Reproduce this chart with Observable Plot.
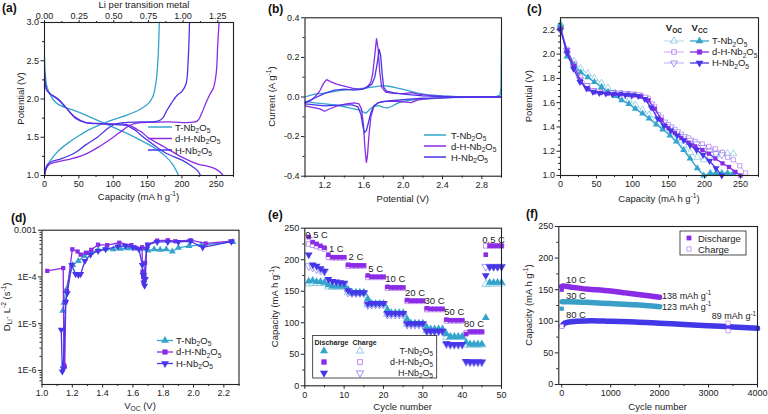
<!DOCTYPE html>
<html><head><meta charset="utf-8">
<script src="https://cdn.jsdelivr.net/npm/d3@7"></script>
<script src="https://cdn.jsdelivr.net/npm/@observablehq/plot@0.6"></script>
<style>
html,body{margin:0;padding:0;background:#fff}
#fig{position:relative;width:768px;height:414px;background:#fff;overflow:hidden;font-family:"Liberation Sans",Arial,sans-serif;color:#222}
#fig svg{position:absolute;overflow:visible}
.plab{position:absolute;font-weight:bold;font-size:12px;color:#111;line-height:1}
</style></head><body>
<div id="fig"></div>
<script>
// ================= DATA =================
const seriesNames = ["T-Nb_{2}O_{5}", "d-H-Nb_{2}O_{5}", "H-Nb_{2}O_{5}"];
const LI_PER_CAP = 201.7; // mAh/g per Li per Nb
const liTicks = [0, 0.25, 0.5, 0.75, 1.0, 1.25];

// (a) galvanostatic curves
const aT_disCap = [0,1,3,6,12,20,40,60,80,100,120,140,160,175,187,195];
const aT_disV   = [2.55,2.35,2.18,2.1,2.0,1.93,1.86,1.79,1.71,1.63,1.55,1.46,1.36,1.26,1.14,1.0];
const aT_chgCap = [0,2,5,9,20,35,50,65,80,100,120,140,152,158,162,165,167];
const aT_chgV   = [1.0,1.08,1.14,1.2,1.32,1.43,1.52,1.6,1.66,1.73,1.79,1.87,1.95,2.04,2.2,2.5,3.0];
const aDH_disCap = [0,1,3,8,20,30,45,60,80,100,120,128,135,141,150,175,200,223,238,248,255,260];
const aDH_disV   = [2.35,2.22,2.12,2.07,2.0,1.9,1.76,1.69,1.68,1.675,1.665,1.64,1.6,1.57,1.5,1.37,1.24,1.15,1.12,1.09,1.05,1.0];
const aDH_chgCap = [0,3,8,15,40,60,80,100,115,125,140,180,222,228,235,240,246,250,252,254];
const aDH_chgV   = [1.0,1.1,1.15,1.17,1.22,1.28,1.38,1.5,1.6,1.66,1.69,1.7,1.71,1.8,1.95,2.05,2.15,2.35,2.7,3.0];
const aH_disCap = [0,1,3,8,20,30,45,60,80,100,118,125,131,140,150,175,200,213,222,227];
const aH_disV   = [2.35,2.22,2.12,2.07,1.99,1.9,1.75,1.69,1.675,1.668,1.655,1.63,1.6,1.53,1.46,1.3,1.2,1.13,1.07,1.0];
const aH_chgCap = [0,2,5,10,25,45,60,77,90,100,115,140,165,172,178,185,192,200,206,209,211];
const aH_chgV   = [1.0,1.1,1.15,1.18,1.22,1.3,1.4,1.5,1.6,1.66,1.69,1.7,1.71,1.75,1.85,1.95,2.04,2.1,2.2,2.5,3.0];

// (b) cyclic voltammetry (loop: anodic 1->3 V then cathodic 3->1 V)
const bT_V = [1.0,1.05,1.1,1.2,1.35,1.5,1.63,1.72,1.8,1.87,1.93,2.0,2.07,2.15,2.27,2.4,2.55,2.8,2.95,2.985,2.995,3.0,3.0,2.8,2.5,2.3,2.15,2.05,1.97,1.93,1.88,1.84,1.8,1.75,1.7,1.66,1.62,1.59,1.56,1.52,1.45,1.39,1.3,1.18,1.1,1.0];
const bT_I = [0.0,0.008,0.014,0.02,0.032,0.04,0.046,0.052,0.057,0.053,0.046,0.038,0.03,0.02,0.01,0.005,0.002,0.001,0.003,0.01,0.05,0.31,0.0,-0.001,-0.003,-0.008,-0.012,-0.018,-0.026,-0.035,-0.048,-0.055,-0.052,-0.044,-0.047,-0.062,-0.082,-0.075,-0.066,-0.062,-0.055,-0.048,-0.04,-0.033,-0.03,-0.022];
const bDH_V = [1.0,1.05,1.1,1.15,1.19,1.22,1.26,1.32,1.4,1.48,1.55,1.6,1.64,1.67,1.69,1.71,1.728,1.745,1.76,1.78,1.82,1.9,2.0,2.08,2.15,2.3,2.5,3.0,3.0,2.5,2.3,2.15,2.08,2.0,1.9,1.8,1.74,1.7,1.67,1.65,1.635,1.625,1.61,1.595,1.575,1.55,1.5,1.42,1.33,1.26,1.2,1.15,1.1,1.05,1.0];
const bDH_I = [-0.03,-0.02,0.0,0.03,0.07,0.088,0.078,0.065,0.055,0.045,0.038,0.042,0.055,0.075,0.12,0.21,0.295,0.24,0.13,0.05,0.025,0.018,0.017,0.022,0.015,0.006,0.002,0.0,0.0,-0.002,-0.006,-0.015,-0.028,-0.025,-0.022,-0.022,-0.03,-0.05,-0.1,-0.2,-0.3,-0.33,-0.26,-0.14,-0.06,-0.035,-0.03,-0.035,-0.045,-0.058,-0.072,-0.06,-0.055,-0.05,-0.045];
const bH_V = [1.0,1.1,1.2,1.3,1.4,1.5,1.58,1.64,1.68,1.71,1.735,1.755,1.77,1.785,1.8,1.83,1.9,2.0,2.2,2.5,3.0,3.0,2.5,2.2,2.0,1.85,1.75,1.7,1.67,1.645,1.625,1.605,1.59,1.57,1.54,1.48,1.4,1.3,1.2,1.1,1.0];
const bH_I = [-0.028,-0.005,0.018,0.035,0.04,0.035,0.038,0.05,0.065,0.1,0.17,0.24,0.21,0.12,0.05,0.03,0.022,0.015,0.006,0.001,0.0,0.0,-0.002,-0.006,-0.014,-0.02,-0.028,-0.045,-0.08,-0.13,-0.17,-0.18,-0.15,-0.09,-0.05,-0.04,-0.04,-0.042,-0.045,-0.04,-0.035];

// (c) GITT: closed-circuit (Vcc) and open-circuit (Voc) potentials
const cT_cap  = [0,9,19,28,38,47,57,66,76,85,95,104,114,123,133,142,152,161,171,180,190,199,208,216,224,232,240];
const cT_vcc  = [2.24,1.98,1.91,1.85,1.81,1.77,1.73,1.69,1.655,1.62,1.59,1.55,1.51,1.47,1.42,1.38,1.33,1.28,1.21,1.14,1.06,1.0,1.02,1.02,1.02,1.02,1.02];
const cT_voc  = [2.25,2.02,1.94,1.88,1.84,1.8,1.76,1.72,1.68,1.65,1.62,1.58,1.54,1.5,1.46,1.42,1.37,1.31,1.25,1.19,1.15,1.13,1.16,1.17,1.18,1.18,1.18];
const cDH_cap = [0,9,19,28,38,47,56,66,75,84,94,103,112,122,131,140,150,159,168,178,187,197,206,215,225,234,243,250];
const cDH_vcc = [2.21,2.03,1.9,1.78,1.71,1.685,1.68,1.675,1.672,1.67,1.665,1.66,1.65,1.62,1.55,1.46,1.39,1.35,1.31,1.27,1.24,1.21,1.18,1.14,1.1,1.07,1.03,1.0];
const cDH_vocCap = [0,9,19,28,38,47,56,66,75,84,94,103,112,122,131,140,150,159,168,178,187,197,206,215,225,232,240,249,257];
const cDH_voc = [2.2,2.04,1.92,1.81,1.74,1.7,1.69,1.685,1.683,1.68,1.675,1.67,1.66,1.635,1.57,1.48,1.42,1.38,1.34,1.31,1.28,1.26,1.24,1.22,1.19,1.15,1.13,1.08,1.02];
const cH_cap  = [0,9,18,27,36,45,54,63,72,81,90,99,108,117,126,135,144,153,162,171,180,189,198,207,216,224];
const cH_vcc  = [2.2,2.01,1.88,1.77,1.72,1.69,1.68,1.675,1.67,1.668,1.665,1.66,1.655,1.63,1.56,1.47,1.41,1.37,1.33,1.29,1.25,1.21,1.17,1.12,1.06,1.0];
const cH_voc  = [2.2,2.03,1.9,1.79,1.74,1.7,1.69,1.685,1.68,1.678,1.675,1.67,1.665,1.645,1.59,1.5,1.44,1.4,1.36,1.32,1.29,1.26,1.23,1.2,1.18,1.17];

// (d) chemical diffusion coefficient vs Voc
const dT_V  = [1.137,1.145,1.155,1.203,1.24,1.28,1.32,1.37,1.42,1.47,1.52,1.57,1.62,1.66,1.7,1.74,1.78,1.82,1.86,1.9,1.97,2.05,2.26];
const dT_D  = [1.9e-5,2.8e-5,5e-5,1.8e-4,2.2e-4,2.8e-4,3.3e-4,3.8e-4,4.0e-4,3.9e-4,4.0e-4,4.1e-4,4.1e-4,4.0e-4,3.7e-4,3.9e-4,3.8e-4,3.9e-4,3.5e-4,4.2e-4,4.6e-4,4.8e-4,5.6e-4];
const dDH_V = [1.035,1.14,1.145,1.15,1.157,1.165,1.2,1.235,1.255,1.29,1.325,1.37,1.43,1.51,1.59,1.625,1.66,1.663,1.667,1.672,1.676,1.68,1.695,1.76,1.83,1.88,1.98,2.08,2.25];
const dDH_D = [1.35e-4,1.55e-4,1.3e-6,1.2e-6,3e-5,5e-5,3.9e-4,3.5e-4,3.0e-4,3.3e-4,3.8e-4,4.9e-4,4.8e-4,5.4e-4,4.8e-4,4.1e-4,4.3e-4,1.3e-4,1.0e-4,8e-5,1.1e-4,2e-4,4.9e-4,6.0e-4,6.1e-4,5.8e-4,6.1e-4,5.2e-4,5.8e-4];
const dH_V  = [1.127,1.134,1.14,1.156,1.167,1.196,1.222,1.24,1.255,1.283,1.32,1.37,1.42,1.5,1.55,1.6,1.64,1.662,1.667,1.672,1.677,1.682,1.69,1.7,1.76,1.83,1.9,1.98,2.06,2.25];
const dH_D  = [7.4e-6,9.5e-7,1.1e-6,2.9e-5,4.5e-5,1.8e-4,1.15e-4,1.1e-4,1.15e-4,2.2e-4,3.0e-4,3.6e-4,3.9e-4,4.5e-4,4.6e-4,4.3e-4,3.9e-4,1.8e-4,1.1e-4,7.5e-5,6.5e-5,9e-5,4.0e-4,4.9e-4,5.6e-4,5.6e-4,5.6e-4,5.8e-4,4.3e-4,5.7e-4];
const dYTickLabels = ["0.001","1E-4","1E-5","1E-6"];

// (e) rate capability, cycles 1..50
const eCycles = d3.range(1, 51);
const rateLabels = ["0.5 C","1 C","2 C","5 C","10 C","20 C","30 C","50 C","80 C","0.5 C"];
const eT_dis  = [166,167,165,165,164, 160,158,158,158,158, 153,148,148,148,148, 138,130,130,130,130, 121,116,116,116,116, 106,99,99,99,99, 93,90,90,90,90, 82,78,78,78,78, 69,66,66,66,66, 108,164,164,164,164];
const eT_chg  = [162,163,163,163,163, 157,157,157,157,157, 148,147,147,147,147, 129,129,129,129,129, 114,114,114,114,114, 98,98,98,98,98, 88,88,88,88,88, 77,77,77,77,77, 65,65,65,65,65, 161,162,162,162,162];
const eDH_dis = [236,228,225,222,219, 208,204,204,204,204, 192,191,191,191,191, 175,173,173,173,173, 157,156,156,156,156, 136,135,135,135,135, 123,122,122,122,122, 105,104,104,104,104, 82,86,86,86,86, 208,222,222,222,222];
const eDH_chg = [225,223,221,219,217, 204,203,203,203,203, 190,190,190,190,190, 172,172,172,172,172, 155,155,155,155,155, 134,134,134,134,134, 121,121,121,121,121, 103,103,103,103,103, 84,85,85,85,85, 222,222,222,222,222];
const eH_dis  = [208,192,190,186,182, 169,166,165,164,163, 151,148,148,148,148, 130,131,131,131,131, 115,115,115,115,115, 99,99,99,99,99, 87,87,87,87,87, 67,66,66,66,66, 39,38,38,38,38, 175,189,189,189,189];
const eH_chg  = [190,188,185,183,181, 165,163,162,161,161, 148,147,147,147,147, 128,129,129,129,129, 113,113,113,113,113, 97,97,97,97,97, 86,86,86,86,86, 66,65,65,65,65, 38,37,37,37,37, 189,189,189,189,189];

// (f) long-term cycling
const fRates = ["10 C","30 C","80 C"];
const f10_cyc = [0,30,200,500,700,1000,1300,1600,2000];
const f10_cap = [155,156,154,151,150,148,145,142,138];
const f30_cyc = [10,200,500,1000,1500,2000];
const f30_cap = [131,131,130,128,126,123];
const f80_cyc = [10,60,150,300,600,1000,1500,2000,2500,3000,3500,4000];
const f80_cap = [93,97,99,100,101,100,99,97,95,93,91,89];
const fChgOut_cyc = [3400,3400,0];
const fChgOut_cap = [97,85,92];
const fDisOut_cyc = [0,0];
const fDisOut_cap = [120,150];

// ================= HELPERS =================
const FONT = '"Liberation Sans", Arial, sans-serif';
const INK = "#222";
const cT = "#35a4cc", cDH = "#8a2be6", cH = "#4636e8";
const colors = [cT, cDH, cH];
const fig = document.getElementById("fig");
const pts = (xs, ys) => xs.map((x, i) => ({x, y: ys[i]}));

function rich(sel, str, fs) {
  const re = /([_^])\{([^}]*)\}/g; let last = 0, m, cur = 0;
  while ((m = re.exec(str))) {
    if (m.index > last) { sel.append("tspan").attr("dy", -cur).text(str.slice(last, m.index)); cur = 0; }
    const sh = m[1] === "_" ? fs * 0.25 : -fs * 0.4;
    sel.append("tspan").attr("dy", sh - cur).attr("font-size", fs * 0.7).text(m[2]);
    cur = sh; last = re.lastIndex;
  }
  if (last < str.length) sel.append("tspan").attr("dy", -cur).text(str.slice(last));
}
function symPath(type, r) {
  const map = {triangle: d3.symbolTriangle, square: d3.symbolSquare, circle: d3.symbolCircle};
  return d3.symbol(map[type], r * r * Math.PI)();
}
function sym(g, type, x, y, r, color, filled, rot, op) {
  g.append("path").attr("d", symPath(type, r))
    .attr("transform", `translate(${x},${y}) rotate(${rot || 0})`)
    .attr("fill", filled ? color : "white").attr("stroke", color)
    .attr("stroke-width", filled ? 0.5 : 0.9).attr("opacity", op == null ? 1 : op);
}
function label(g, x, y, str, fs, anchor, weight) {
  const t = g.append("text").attr("x", x).attr("y", y).attr("font-size", fs)
    .attr("text-anchor", anchor || "start").attr("font-weight", weight || "normal").attr("fill", INK);
  rich(t, str, fs);
  return t;
}

function makePanel(o) {
  const w = 256, h = 207;
  const marks = [...o.marks,
    Plot.axisX({ticks: o.xMinor, tickSize: 2, tickFormat: () => "", label: null}),
    Plot.axisX({ticks: o.xTicks, tickSize: 3.5, tickPadding: 2, tickFormat: o.xFmt, label: null}),
    Plot.axisY({ticks: o.yMinor, tickSize: 2, tickFormat: () => "", label: null}),
    Plot.axisY({ticks: o.yTicks, tickSize: 3.5, tickPadding: 2, tickFormat: o.yFmt, label: null}),
    ...(o.extra || []),
    Plot.frame({stroke: INK, strokeWidth: 1.1})
  ];
  const svg = Plot.plot({
    width: w, height: h, marginLeft: o.ml, marginRight: o.mr, marginTop: o.mt, marginBottom: o.mb,
    x: {...o.x, label: null}, y: {...o.y, label: null},
    style: {fontFamily: FONT, fontSize: "9px", color: INK, background: "none", overflow: "visible"},
    marks
  });
  svg.style.left = o.left + "px"; svg.style.top = o.top + "px";
  fig.appendChild(svg);
  const g = d3.select(svg).append("g").attr("font-family", FONT);
  const fr = {l: o.ml, r: w - o.mr, t: o.mt, b: h - o.mb};
  if (o.xLabel) label(g, (fr.l + fr.r) / 2, o.xLabelY, o.xLabel, 9.5, "middle");
  if (o.yLabel) {
    const t = g.append("text").attr("transform", `translate(${o.yLabelX},${(fr.t + fr.b) / 2}) rotate(-90)`)
      .attr("text-anchor", "middle").attr("font-size", 9.5).attr("fill", INK);
    rich(t, o.yLabel, 9.5);
  }
  return {svg, g, fr, sx: svg.scale("x"), sy: svg.scale("y")};
}
const rng = (a, b, s) => d3.range(a, b + s / 2, s);
const line = (xs, ys, color, extra) => Plot.line(pts(xs, ys), {x: "x", y: "y", stroke: color, strokeWidth: 1.3, curve: "catmull-rom", clip: true, ...(extra || {})});
const plain = d => String(d);

// ================= (a) =================
{
  const P = makePanel({
    left: 0, top: 0, ml: 44, mr: 23, mt: 22, mb: 32,
    x: {domain: [0, 275]}, y: {domain: [1, 3]},
    xTicks: rng(0, 250, 50), xMinor: rng(25, 275, 50), xFmt: plain,
    yTicks: rng(1, 3, 0.5), yMinor: rng(1.25, 2.75, 0.5), yFmt: d => d.toFixed(1),
    extra: [
      Plot.axisX({anchor: "top", ticks: liTicks.map(l => l * LI_PER_CAP), tickSize: 3, tickPadding: 1, tickFormat: d => (d / LI_PER_CAP).toFixed(2), label: null}),
      Plot.axisX({anchor: "top", ticks: liTicks.slice(0, -1).map(l => (l + 0.125) * LI_PER_CAP), tickSize: 2, tickFormat: () => "", label: null})
    ],
    marks: [
      line(aT_disCap, aT_disV, cT), line(aT_chgCap, aT_chgV, cT),
      line(aDH_disCap, aDH_disV, cDH), line(aDH_chgCap, aDH_chgV, cDH),
      line(aH_disCap, aH_disV, cH), line(aH_chgCap, aH_chgV, cH)
    ],
    xLabel: "Capacity (mA h g^{-1})", xLabelY: 200, yLabel: "Potential (V)", yLabelX: 24
  });
  label(P.g, 144, 8, "Li per transition metal", 9.5, "middle");
  seriesNames.forEach((s, i) => {
    const y = 127 + i * 11.5;
    P.g.append("line").attr("x1", 148).attr("x2", 172).attr("y1", y).attr("y2", y).attr("stroke", colors[i]).attr("stroke-width", 1.5);
    label(P.g, 175, y + 3.5, s, 9.5);
  });
}

// ================= (b) =================
{
  const P = makePanel({
    left: 256, top: 0, ml: 48.5, mr: 11, mt: 17.3, mb: 31.3,
    x: {domain: [1, 3]}, y: {domain: [-0.4, 0.4]},
    xTicks: rng(1.2, 2.8, 0.4), xMinor: rng(1.0, 3.0, 0.4), xFmt: d => d.toFixed(1),
    yTicks: rng(-0.4, 0.4, 0.2), yMinor: rng(-0.3, 0.3, 0.2), yFmt: d => d.toFixed(1),
    marks: [
      line(bT_V, bT_I, cT, {curve: "linear"}),
      line(bDH_V, bDH_I, cDH, {curve: "linear"}),
      line(bH_V, bH_I, cH, {curve: "linear"})
    ],
    xLabel: "Potential (V)", xLabelY: 202, yLabel: "Current (A g^{-1})", yLabelX: 19
  });
  seriesNames.forEach((s, i) => {
    const y = 135 + i * 11;
    P.g.append("line").attr("x1", 168).attr("x2", 190).attr("y1", y).attr("y2", y).attr("stroke", colors[i]).attr("stroke-width", 1.5);
    label(P.g, 195, y + 3.5, s, 9.5);
  });
}

// ================= (c) =================
{
  const vocOp = 0.4;
  const P = makePanel({
    left: 512, top: 0, ml: 48, mr: 10, mt: 17.2, mb: 32,
    x: {domain: [0, 275]}, y: {domain: [1, 2.3]},
    xTicks: rng(0, 250, 50), xMinor: rng(25, 275, 50), xFmt: plain,
    yTicks: rng(1, 2.2, 0.2), yMinor: rng(1.05, 2.25, 0.05).filter(v => Math.abs(v * 5 - Math.round(v * 5)) > 1e-6), yFmt: d => d.toFixed(1),
    marks: [
      line(cT_cap, cT_voc, cT, {curve: "linear", strokeOpacity: vocOp, strokeWidth: 1}),
      Plot.dot(pts(cT_cap, cT_voc), {x: "x", y: "y", symbol: "triangle", r: 2.6, stroke: cT, strokeOpacity: 0.55, fill: "white", strokeWidth: 0.8}),
      line(cDH_vocCap, cDH_voc, cDH, {curve: "linear", strokeOpacity: vocOp, strokeWidth: 1}),
      Plot.dot(pts(cDH_vocCap, cDH_voc), {x: "x", y: "y", symbol: "square", r: 2.4, stroke: cDH, strokeOpacity: 0.55, fill: "white", strokeWidth: 0.8}),
      line(cH_cap, cH_voc, cH, {curve: "linear", strokeOpacity: vocOp, strokeWidth: 1}),
      Plot.dot(pts(cH_cap, cH_voc), {x: "x", y: "y", symbol: "triangle", rotate: 180, r: 2.6, stroke: cH, strokeOpacity: 0.55, fill: "white", strokeWidth: 0.8}),
      line(cT_cap, cT_vcc, cT, {curve: "linear"}),
      Plot.dot(pts(cT_cap, cT_vcc), {x: "x", y: "y", symbol: "triangle", r: 2.6, fill: cT}),
      line(cDH_cap, cDH_vcc, cDH, {curve: "linear"}),
      Plot.dot(pts(cDH_cap, cDH_vcc), {x: "x", y: "y", symbol: "square", r: 2.4, fill: cDH}),
      line(cH_cap, cH_vcc, cH, {curve: "linear"}),
      Plot.dot(pts(cH_cap, cH_vcc), {x: "x", y: "y", symbol: "triangle", rotate: 180, r: 2.6, fill: cH})
    ],
    xLabel: "Capacity (mA h g^{-1})", xLabelY: 202, yLabel: "Potential (V)", yLabelX: 20
  });
  label(P.g, 162, 31, "V_{OC}", 9.5, "middle", "bold");
  label(P.g, 187.5, 31, "V_{CC}", 9.5, "middle", "bold");
  const types = ["triangle", "square", "triangle"], rots = [0, 0, 180];
  seriesNames.forEach((s, i) => {
    const y = 41 + i * 11;
    P.g.append("line").attr("x1", 152).attr("x2", 172).attr("y1", y).attr("y2", y).attr("stroke", colors[i]).attr("stroke-opacity", vocOp).attr("stroke-width", 1);
    sym(P.g, types[i], 162, y, 2.6, colors[i], false, rots[i], 0.55);
    P.g.append("line").attr("x1", 178).attr("x2", 197).attr("y1", y).attr("y2", y).attr("stroke", colors[i]).attr("stroke-width", 1.3);
    sym(P.g, types[i], 187.5, y, 2.6, colors[i], true, rots[i]);
    label(P.g, 200, y + 3.3, s, 9.5);
  });
}

// ================= (d) =================
{
  const minor = [];
  for (let k = -7; k <= -4; k++) for (let m = 2; m <= 9; m++) { const v = m * Math.pow(10, k); if (v > 5e-7 && v < 1e-3) minor.push(v); }
  const major = [1e-3, 1e-4, 1e-5, 1e-6];
  const P = makePanel({
    left: 0, top: 207, ml: 41.5, mr: 17.5, mt: 22.7, mb: 30,
    x: {domain: [1.0, 2.3]}, y: {type: "log", domain: [5e-7, 1e-3]},
    xTicks: rng(1.0, 2.2, 0.2), xMinor: rng(1.1, 2.3, 0.2), xFmt: d => d.toFixed(1),
    yTicks: major, yMinor: minor, yFmt: d => dYTickLabels[major.findIndex(v => Math.abs(v - d) / v < 1e-6)],
    marks: [
      line(dT_V, dT_D, cT, {curve: "linear"}),
      Plot.dot(pts(dT_V, dT_D), {x: "x", y: "y", symbol: "triangle", r: 2.6, fill: cT}),
      line(dDH_V, dDH_D, cDH, {curve: "linear"}),
      Plot.dot(pts(dDH_V, dDH_D), {x: "x", y: "y", symbol: "square", r: 2.4, fill: cDH}),
      line(dH_V, dH_D, cH, {curve: "linear"}),
      Plot.dot(pts(dH_V, dH_D), {x: "x", y: "y", symbol: "triangle", rotate: 180, r: 2.6, fill: cH})
    ],
    xLabel: "V_{OC} (V)", xLabelY: 202, yLabel: "D_{Li}· L^{-2} (s^{-1})", yLabelX: 10
  });
  const types = ["triangle", "square", "triangle"], rots = [0, 0, 180];
  seriesNames.forEach((s, i) => {
    const y = 133.5 + i * 11.5;
    P.g.append("line").attr("x1", 157).attr("x2", 173).attr("y1", y).attr("y2", y).attr("stroke", colors[i]).attr("stroke-width", 1.3);
    sym(P.g, types[i], 165, y, 2.6, colors[i], true, rots[i]);
    label(P.g, 176, y + 3.3, s, 9.5);
  });
}

// ================= (e) =================
{
  const groupLab = rateLabels.map((t, gi) => ({t, x: gi * 5 + 3, y: d3.mean(eDH_dis.slice(gi * 5, gi * 5 + 5)) + 12.5}));
  const open = (ys, c, symb, rot) => Plot.dot(pts(eCycles, ys), {x: "x", y: "y", symbol: symb, rotate: rot || 0, r: symb === "square" ? 2.6 : 2.9, stroke: c, fill: "white", strokeWidth: 0.8, strokeOpacity: 0.6});
  const filled = (ys, c, symb, rot) => Plot.dot(pts(eCycles, ys), {x: "x", y: "y", symbol: symb, rotate: rot || 0, r: symb === "square" ? 2.6 : 2.9, fill: c});
  const P = makePanel({
    left: 256, top: 207, ml: 48.3, mr: 11, mt: 20.7, mb: 28.7,
    x: {domain: [0, 50]}, y: {domain: [0, 250]},
    xTicks: rng(0, 50, 10), xMinor: rng(5, 45, 10), xFmt: plain,
    yTicks: rng(0, 250, 50), yMinor: rng(25, 225, 50), yFmt: plain,
    marks: [
      open(eT_chg, cT, "triangle"), open(eDH_chg, cDH, "square"), open(eH_chg, cH, "triangle", 180),
      filled(eT_dis, cT, "triangle"), filled(eDH_dis, cDH, "square"), filled(eH_dis, cH, "triangle", 180),
      Plot.text(groupLab, {x: "x", y: "y", text: "t", fontSize: 9.5, fill: INK})
    ],
    xLabel: "Cycle number", xLabelY: 203, yLabel: "Capacity (mA h g^{-1})", yLabelX: 21.5
  });
  P.g.append("rect").attr("x", 56.7).attr("y", 128.5).attr("width", 124).attr("height", 42.5)
    .attr("fill", "white").attr("stroke", INK).attr("stroke-width", 0.8);
  label(P.g, 58.5, 138, "Discharge", 7, "start", "bold");
  label(P.g, 96.5, 138, "Charge", 7, "start", "bold");
  const types = ["triangle", "square", "triangle"], rots = [0, 0, 180];
  seriesNames.forEach((s, i) => {
    const y = 144 + i * 11;
    sym(P.g, types[i], 68, y, 2.7, colors[i], true, rots[i]);
    sym(P.g, types[i], 104, y, 2.7, colors[i], false, rots[i], 0.6);
    label(P.g, 177, y + 3.2, s, 9, "end");
  });
}

// ================= (f) =================
{
  const band = (xs, ys, c) => Plot.line(pts(xs, ys), {x: "x", y: "y", stroke: c, strokeWidth: 5.5, curve: "catmull-rom"});
  const cF = [cDH, "#3a9fc6", "#4338e8"];
  const series = [[f10_cyc, f10_cap], [f30_cyc, f30_cap], [f80_cyc, f80_cap]];
  const P = makePanel({
    left: 512, top: 207, ml: 46.3, mr: 11, mt: 19, mb: 30,
    x: {domain: [-60, 4000]}, y: {domain: [0, 250]},
    xTicks: rng(0, 4000, 1000), xMinor: rng(500, 3500, 1000), xFmt: plain,
    yTicks: rng(0, 250, 50), yMinor: rng(25, 225, 50), yFmt: plain,
    marks: [
      band(f10_cyc, f10_cap, cF[0]), band(f30_cyc, f30_cap, cF[1]), band(f80_cyc, f80_cap, cF[2]),
      Plot.dot(pts(fDisOut_cyc, fDisOut_cap), {x: "x", y: "y", symbol: "square", r: 2.4, fill: (d, i) => i === 0 ? cF[1] : cF[0]}),
      Plot.dot(pts(fChgOut_cyc, fChgOut_cap), {x: "x", y: "y", symbol: "square", r: 2.4, stroke: cDH, strokeOpacity: 0.5, fill: "white", strokeWidth: 0.8})
    ],
    xLabel: "Cycle number", xLabelY: 203, yLabel: "Capacity (mA h g^{-1})", yLabelX: 20
  });
  // rate labels above each band, end-capacity labels after each band end
  const endShift = [2.5, -0.5];
  series.forEach(([xs, ys], i) => {
    label(P.g, P.sx.apply(300), P.sy.apply(d3.max(ys) + 9) + 3.5, fRates[i], 9.5, "middle");
    const last = ys[ys.length - 1], lx = xs[xs.length - 1];
    if (i < 2) label(P.g, P.sx.apply(lx) + 3, P.sy.apply(last + endShift[i]) + 3.5, `${last} mAh g^{-1}`, 9, "start");
    else label(P.g, P.sx.apply(lx) - 1, P.sy.apply(last + 19) + 3.5, `${last} mAh g^{-1}`, 9, "end");
  });
  P.g.append("rect").attr("x", 168).attr("y", 24).attr("width", 66).attr("height", 24)
    .attr("fill", "white").attr("stroke", INK).attr("stroke-width", 0.8);
  sym(P.g, "square", 177, 31, 2.4, cDH, true, 0);
  label(P.g, 186, 34.5, "Discharge", 9.5);
  sym(P.g, "square", 177, 42, 2.4, cDH, false, 0, 0.5);
  label(P.g, 186, 45.5, "Charge", 9.5);
}

// panel letters
[["(a)", 2, 2], ["(b)", 268, 3], ["(c)", 527, 3], ["(d)", 11, 212], ["(e)", 268, 209], ["(f)", 526, 208]].forEach(([t, x, y]) => {
  const d = document.createElement("div"); d.className = "plab"; d.textContent = t;
  d.style.left = x + "px"; d.style.top = y + "px"; fig.appendChild(d);
});
</script>
</body></html>
